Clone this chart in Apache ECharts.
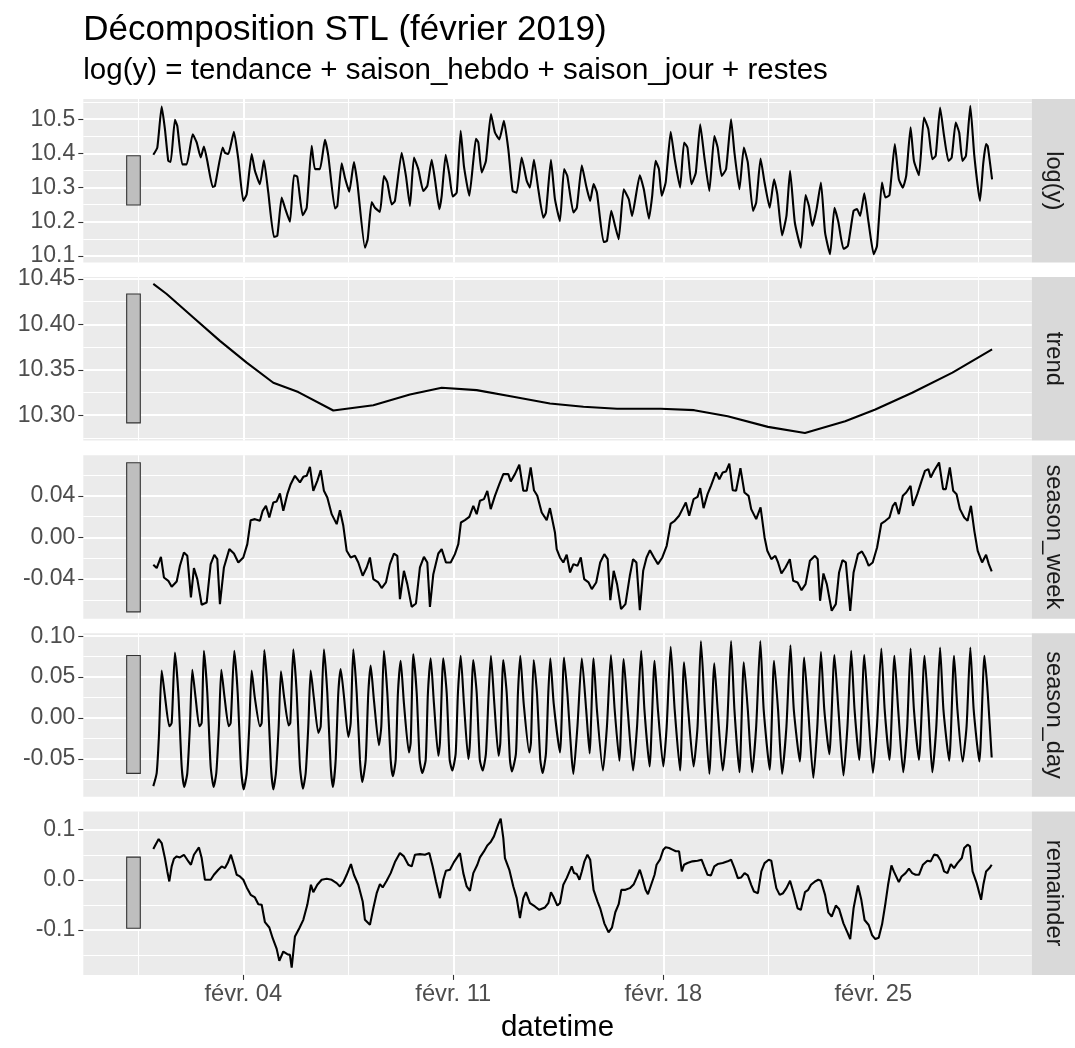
<!DOCTYPE html>
<html><head><meta charset="utf-8">
<script src="https://cdn.jsdelivr.net/npm/echarts@6/dist/echarts.min.js"></script>
<style>html,body{margin:0;padding:0;background:#fff}#c{width:1075px;height:1048px}</style>
</head><body><div id="c"></div>
<script>
// ---- data (hours since 2019-02-01 00:00) ----
const panelNames = ['log(y)', 'trend', 'season_week', 'season_day', 'remainder'];
const tickHours = [72, 240, 408, 576];
const tickLabels = ['févr. 04', 'févr. 11', 'févr. 18', 'févr. 25'];
const minorHours = [-12, 156, 324, 492, 660];
const xRange = [-56, 702.7];

const yTicks = [[10.1, 10.2, 10.3, 10.4, 10.5], [10.30, 10.35, 10.40, 10.45], [-0.04, 0, 0.04], [-0.05, 0, 0.05, 0.10], [-0.1, 0, 0.1]];
const yTickLabels = [['10.1', '10.2', '10.3', '10.4', '10.5'], ['10.30', '10.35', '10.40', '10.45'], ['-0.04', '0.00', '0.04'], ['-0.05', '0.00', '0.05', '0.10'], ['-0.1', '0.0', '0.1']];
const yMinor = [[10.15, 10.25, 10.35, 10.45, 10.55], [10.275, 10.325, 10.375, 10.425], [-0.06, -0.02, 0.02, 0.06], [-0.075, -0.025, 0.025, 0.075], [-0.15, -0.05, 0.05]];
const yRanges = [[10.081, 10.559], [10.272, 10.452], [-0.078, 0.079], [-0.096, 0.1035], [-0.19, 0.1366]];
const rangeBarHours = [-21.3, -10.4];
const rangeBars = [[10.249, 10.393], [10.2915, 10.4334], [-0.0714, 0.0717], [-0.0674, 0.0765], [-0.0967, 0.0453]];

const logY = [[0,10.396],[3.2,10.417],[6.7,10.537],[9.3,10.471],[12,10.378],[13.9,10.375],[17.3,10.498],[19.2,10.48],[23.2,10.368],[26.7,10.368],[31.5,10.456],[34.7,10.432],[37.9,10.388],[40.5,10.42],[43.2,10.378],[47.5,10.302],[49.3,10.305],[55.5,10.417],[57.3,10.402],[60,10.398],[64.5,10.463],[68,10.383],[72,10.261],[74.7,10.28],[78.7,10.398],[81.3,10.349],[85.3,10.31],[88.5,10.38],[92,10.285],[96.5,10.156],[99.2,10.159],[102.7,10.271],[105.3,10.241],[109.3,10.2],[112.5,10.336],[115.2,10.332],[119.5,10.219],[122.7,10.241],[126.7,10.422],[129.3,10.354],[133.3,10.354],[137.3,10.44],[140,10.393],[145.3,10.239],[147.2,10.246],[150.7,10.371],[153.3,10.329],[156.8,10.288],[160.5,10.375],[163.2,10.315],[169.3,10.124],[171.5,10.149],[174.7,10.258],[177.3,10.241],[181.3,10.229],[184.5,10.334],[187.2,10.315],[190.7,10.251],[193.3,10.261],[198.7,10.402],[202.1,10.334],[205.3,10.246],[208.5,10.388],[212,10.354],[216,10.29],[219.2,10.305],[222.7,10.381],[225.3,10.324],[228.8,10.237],[230.7,10.276],[233.9,10.396],[236.8,10.339],[239.5,10.274],[242.7,10.285],[245.9,10.466],[248.5,10.363],[252.8,10.276],[256,10.378],[258.1,10.443],[260,10.432],[262.7,10.344],[266.1,10.378],[270.1,10.515],[273.3,10.461],[276.8,10.441],[280.5,10.495],[284,10.412],[287.5,10.29],[290.7,10.285],[294.7,10.388],[298.7,10.32],[301.3,10.3],[304.5,10.381],[308,10.295],[312,10.212],[314.1,10.227],[318.1,10.381],[321.3,10.266],[325.3,10.202],[328.6,10.354],[331.2,10.334],[336.1,10.227],[338.8,10.241],[342.8,10.365],[346.3,10.305],[349.5,10.261],[352.2,10.31],[354.9,10.285],[360.2,10.141],[362.9,10.144],[366.4,10.232],[369.1,10.193],[372.3,10.149],[376.3,10.295],[380.4,10.266],[383,10.217],[389.2,10.336],[392.4,10.295],[396.5,10.209],[399.1,10.276],[401.8,10.378],[404.5,10.354],[406.7,10.276],[409.9,10.315],[413.9,10.463],[417.1,10.383],[421.4,10.3],[424.6,10.432],[427.3,10.417],[430.5,10.31],[434,10.344],[437.5,10.485],[440.7,10.393],[444.8,10.29],[448.8,10.451],[451.5,10.417],[454.7,10.334],[458.2,10.354],[462.2,10.5],[464.9,10.402],[468.9,10.295],[472.4,10.417],[475.6,10.373],[479.7,10.232],[482.3,10.256],[485.8,10.385],[489,10.315],[493.1,10.241],[496.6,10.324],[499.2,10.28],[503,10.16],[506.5,10.217],[509.4,10.349],[513.2,10.198],[518,10.124],[521.8,10.278],[524.5,10.246],[527.2,10.188],[530.6,10.237],[534.1,10.315],[537.4,10.168],[541.4,10.105],[544.9,10.241],[548.1,10.198],[552.1,10.121],[555.6,10.129],[560.2,10.232],[562.9,10.237],[565.5,10.217],[568.8,10.283],[572.2,10.198],[576.3,10.105],[578.9,10.129],[582.9,10.315],[585.7,10.271],[588.9,10.278],[593.2,10.427],[596.4,10.324],[599.6,10.3],[602.3,10.334],[605.8,10.476],[608.5,10.378],[612.5,10.336],[616.5,10.505],[620,10.471],[623.2,10.383],[625.9,10.393],[629.4,10.534],[632.6,10.451],[636.1,10.378],[638.7,10.388],[641.9,10.49],[644.7,10.461],[647.3,10.378],[650.1,10.393],[653.6,10.539],[656.8,10.393],[661.3,10.261],[664,10.373],[666.2,10.427],[667.5,10.422],[671,10.324]];

const trend = [[0,10.4445],[10.7,10.4334],[32,10.4076],[53.3,10.3818],[74.7,10.3579],[96,10.3357],[116,10.3254],[144,10.3051],[176,10.311],[205.3,10.3228],[230.7,10.3302],[258.7,10.3276],[288,10.3203],[317.3,10.3129],[344.1,10.3092],[371,10.307],[405.9,10.307],[432.7,10.3055],[459.5,10.2989],[491.7,10.2871],[521.3,10.2804],[553.5,10.2934],[577.6,10.3062],[607.1,10.3247],[639.3,10.3468],[671,10.3725]];

const seasonWeek = [[0,-0.0262],[2.7,-0.0294],[6.1,-0.0186],[8.5,-0.0384],[12,-0.0416],[14.7,-0.0474],[18.7,-0.0422],[21.3,-0.0272],[24.5,-0.0144],[27.2,-0.0176],[30.1,-0.0576],[32.5,-0.0294],[35.2,-0.04],[38.7,-0.0646],[42.7,-0.0624],[45.9,-0.0256],[48.8,-0.0166],[51.2,-0.0208],[53.3,-0.064],[56.5,-0.0288],[60.8,-0.0112],[64.5,-0.0154],[68,-0.024],[72,-0.0192],[75.2,-0.0064],[77.9,0.0166],[81.3,0.0176],[85.3,0.016],[87.5,0.0256],[90.1,0.0304],[92.8,0.0192],[96,0.0336],[98.7,0.0346],[101.3,0.0422],[104,0.0256],[107.2,0.0416],[109.9,0.0512],[113.3,0.0592],[117.3,0.0528],[120,0.0582],[122.7,0.0592],[125.3,0.0678],[128,0.0448],[131.2,0.0544],[133.9,0.0646],[136.5,0.0448],[139.2,0.0384],[142.7,0.0224],[146.7,0.0128],[149.3,0.0262],[152,0.0112],[154.7,-0.0128],[157.9,-0.0192],[161.3,-0.0176],[164,-0.024],[167.5,-0.0368],[170.7,-0.0288],[173.3,-0.0192],[176,-0.04],[180,-0.0432],[182.7,-0.0486],[186.1,-0.0432],[189.3,-0.0256],[192.5,-0.0154],[195.2,-0.0176],[197.3,-0.0592],[200.5,-0.032],[203.2,-0.0448],[206.7,-0.0666],[210.1,-0.0634],[213.3,-0.0288],[216.5,-0.0186],[219.2,-0.024],[221.3,-0.0666],[224,-0.0352],[228,-0.0154],[230.7,-0.0112],[234.1,-0.024],[237.9,-0.024],[241.3,-0.016],[244,-0.0064],[246.1,0.0144],[249.3,0.0166],[252.8,0.0198],[256,0.0304],[258.7,0.0224],[261.3,0.0352],[264.5,0.0368],[267.2,0.0448],[269.9,0.0272],[273.3,0.04],[276.8,0.0512],[280,0.0608],[284,0.0608],[285.9,0.0538],[289.3,0.0608],[292.8,0.0698],[296,0.0448],[298.7,0.0448],[301.9,0.0672],[304.5,0.0454],[307.2,0.04],[310.7,0.024],[314.7,0.0166],[317.3,0.0282],[321.3,0.0048],[322.7,-0.0112],[325.3,-0.0192],[328,-0.024],[330.7,-0.0166],[333.4,-0.0336],[336.1,-0.0256],[339.3,-0.0272],[342,-0.0192],[344.7,-0.04],[348.2,-0.0432],[350.8,-0.0496],[354.3,-0.0432],[357.5,-0.024],[360.8,-0.016],[363.5,-0.0208],[365.6,-0.0602],[368.3,-0.032],[371,-0.0448],[374.2,-0.0688],[377.7,-0.064],[381.2,-0.0368],[383.8,-0.0208],[386.5,-0.024],[389.2,-0.0698],[391.9,-0.032],[394.6,-0.0192],[397.3,-0.0122],[400.5,-0.0192],[403.7,-0.0256],[407.2,-0.0192],[410.7,-0.008],[413.9,0.0134],[417.1,0.016],[420.6,0.0208],[423.3,0.0272],[426,0.0336],[428.7,0.0208],[432.2,0.0368],[435.4,0.039],[437.5,0.0474],[440.2,0.0282],[443.4,0.0416],[446.1,0.0496],[450.1,0.0624],[452.8,0.056],[455.5,0.0624],[458.2,0.0634],[460.8,0.071],[463.5,0.0454],[466.2,0.0448],[469.7,0.0666],[472.9,0.0432],[476.2,0.04],[478.3,0.0272],[482.3,0.0176],[485.8,0.0288],[489,0],[491.2,-0.0128],[494.4,-0.0208],[497.6,-0.0176],[499.8,-0.024],[502.5,-0.0346],[505.7,-0.0288],[509.2,-0.0208],[511.9,-0.0416],[515.4,-0.0432],[518.6,-0.0506],[521.8,-0.0448],[525.3,-0.0224],[529.3,-0.0176],[531.5,-0.0208],[533.4,-0.0608],[536.1,-0.0346],[538.8,-0.0448],[542.7,-0.0704],[546,-0.064],[548.6,-0.0336],[551.3,-0.0218],[554,-0.024],[557.5,-0.0704],[560.2,-0.0336],[563.7,-0.016],[566.9,-0.0134],[569.6,-0.0192],[572.3,-0.0272],[575.5,-0.024],[579,-0.0096],[582.4,0.0134],[585.7,0.016],[588.9,0.0192],[591.6,0.0304],[593.7,0.0336],[596.4,0.0224],[599.6,0.04],[602.3,0.0432],[605.8,0.0496],[607.7,0.0304],[611.2,0.0416],[614.6,0.0544],[617.3,0.064],[620,0.0656],[621.9,0.0576],[624.6,0.064],[628.6,0.072],[631.8,0.0464],[634,0.0464],[637.2,0.0672],[639.9,0.0448],[642.6,0.0416],[645.3,0.0272],[648.7,0.0192],[651.4,0.016],[654.1,0.0304],[656.8,0.0064],[659.5,-0.0128],[663,-0.024],[666.2,-0.0166],[668.4,-0.0256],[670.7,-0.0326]];

const seasonDay = [[0,-0.083],[2.7,-0.067],[4.5,-0.022],[6.7,0.058],[9.3,0.027],[12.8,-0.010],[14.7,-0.006],[17.3,0.080],[20,0.031],[22.7,-0.059],[24.8,-0.084],
[27.2,-0.067],[29.3,-0.010],[31.2,0.059],[33.9,0.024],[36.8,-0.010],[38.7,-0.006],[40.5,0.082],[43.2,0.031],[45.9,-0.059],[48.3,-0.084],
[50.4,-0.067],[52.5,-0.010],[54.4,0.059],[57.1,0.024],[60.3,-0.010],[61.9,-0.006],[64.8,0.082],[67.5,0.031],[70.1,-0.059],[72.3,-0.087],
[74.7,-0.067],[76.8,-0.010],[78.7,0.058],[81.3,0.024],[85.3,-0.010],[86.7,-0.006],[88.8,0.083],[91.5,0.031],[94.1,-0.059],[96,-0.087],
[98.1,-0.067],[100.3,-0.010],[102.1,0.057],[104.8,0.024],[108.3,-0.009],[109.6,-0.006],[112,0.084],[114.7,0.031],[117.3,-0.059],[119.7,-0.086],
[121.9,-0.067],[124,-0.010],[125.9,0.058],[128.5,0.024],[132,-0.018],[133.9,-0.010],[136.5,0.084],[139.2,0.031],[141.9,-0.059],[143.7,-0.084],
[145.9,-0.051],[148,0.031],[149.9,0.060],[152.5,0.027],[156,-0.023],[157.9,-0.006],[160,0.084],[162.7,0.031],[165.3,-0.051],[167.2,-0.078],
[169.9,-0.051],[172,0.031],[173.9,0.064],[176.5,0.022],[180.5,-0.033],[182.4,-0.010],[184.5,0.082],[187.2,0.031],[189.9,-0.051],[191.7,-0.071],
[193.9,-0.051],[195.7,0.031],[197.9,0.070],[200.5,0.018],[204.5,-0.042],[205.9,-0.030],[208,0.078],[210.7,0.031],[213.1,-0.051],[215.2,-0.067],
[217.9,-0.051],[219.7,0.031],[221.9,0.073],[224.5,0.018],[228,-0.046],[229.3,-0.030],[232,0.073],[234.7,0.031],[237.1,-0.051],[239.2,-0.064],
[241.9,-0.043],[243.7,0.031],[245.9,0.076],[248.5,0.018],[252,-0.050],[253.3,-0.030],[256,0.071],[258.7,0.031],[261.2,-0.051],[263.5,-0.064],
[266.1,-0.043],[268.3,0.031],[270.1,0.076],[272.8,0.018],[276.2,-0.046],[277.6,-0.030],[280,0.071],[282.7,0.031],[285.3,-0.051],[286.9,-0.065],
[290.1,-0.043],[291.7,0.031],[293.6,0.076],[296.3,0.018],[300.8,-0.042],[302.1,-0.030],[304.3,0.071],[306.9,0.031],[309.6,-0.051],[311.5,-0.067],
[314.1,-0.043],[316,0.031],[317.6,0.073],[320.3,0.018],[325.3,-0.042],[328.6,0.074],[331.2,0.031],[336.1,-0.068],
[339.3,-0.010],[342.8,0.073],[346.3,0.010],[349,-0.043],[352.2,0.073],[354.9,0.010],[359.7,-0.064],[362.9,-0.010],[366.1,0.077],[369.1,0.010],[372.8,-0.052],[376.3,0.072],[379.5,0.010],[383.8,-0.064],[387,-0.010],[390.3,0.082],[392.9,0.010],[397,-0.059],[401,0.070],[403.7,0.010],[408,-0.059],[410.7,-0.010],[413.9,0.087],[417.1,0.010],[421.4,-0.064],[424.6,0.068],[427.9,0.010],[432.2,-0.059],[435.4,-0.010],[438.1,0.094],[441.3,0.010],[444.8,-0.068],[448.8,0.067],[451.5,0.010],[455.5,-0.064],[459,-0.010],[462.2,0.094],[464.9,0.010],[468.9,-0.066],[472.4,0.068],[475.6,0.010],[479.1,-0.066],[482.3,-0.010],[485.6,0.094],[488.3,0.010],[493.1,-0.063],[496.6,0.070],[499.8,0.010],[503,-0.068],[506.5,-0.010],[509.7,0.089],[512.4,0.010],[517.2,-0.053],[520.7,0.074],[523.9,0.010],[528,-0.073],[531.2,-0.010],[534.1,0.081],[536.8,0.010],[540.8,-0.044],[544.9,0.077],[548.1,0.010],[552.1,-0.070],[555.3,-0.010],[558.3,0.082],[561,0.010],[564.7,-0.051],[568.8,0.077],[571.8,0.010],[575.7,-0.067],[578.9,-0.010],[582.4,0.085],[585.1,0.010],[588.9,-0.051],[592.9,0.076],[595.9,0.010],[599.9,-0.066],[603.1,-0.010],[605.8,0.085],[608.5,0.010],[612.5,-0.051],[617,0.076],[620,0.010],[623.2,-0.066],[626.4,-0.010],[629.4,0.086],[632.1,0.010],[636.7,-0.052],[640.6,0.076],[643.3,0.010],[647.4,-0.053],[650.6,-0.010],[653.6,0.086],[656.3,0.010],[660.8,-0.053],[664.9,0.076],[667.5,0.031],[670.7,-0.048]];

const remainder = [[0,0.0613],[2.1,0.0713],[4.3,0.0813],[6.7,0.0733],[9.3,0.0433],[11.2,0.0167],[12.8,-0.0033],[14.7,0.0267],[16.5,0.042],[18.7,0.0467],[21.3,0.0447],[24.5,0.05],[27.2,0.04],[30.1,0.03],[32.5,0.05],[36.5,0.0647],[38.7,0.0433],[41.3,0],[45.9,0],[48.5,0.01],[52,0.02],[54.7,0.0267],[57.3,0.0233],[59.5,0.0333],[62.1,0.05],[64.5,0.03],[66.7,0.01],[69.3,0.0067],[72,0],[74.7,-0.0153],[77.9,-0.03],[81.3,-0.0353],[84,-0.0487],[86.7,-0.05],[89.3,-0.0847],[92.8,-0.0953],[95.5,-0.1167],[98.7,-0.138],[100.8,-0.162],[104,-0.1433],[107.2,-0.1487],[109.3,-0.15],[110.7,-0.1753],[113.3,-0.1133],[116.8,-0.0967],[120,-0.08],[123.2,-0.05],[126.1,-0.01],[128,-0.0247],[131.2,-0.01],[134.7,0],[138.7,0.002],[142.7,0],[146.7,-0.0067],[149.3,-0.0133],[152,-0.0047],[154.7,0.01],[158.1,0.0313],[160.5,0.01],[164,-0.01],[167.5,-0.0433],[169.3,-0.08],[173.3,-0.09],[176,-0.0567],[178.7,-0.0267],[181.3,-0.0087],[183.5,-0.0153],[186.7,-0.002],[189.9,0.0133],[193.3,0.0353],[197.3,0.0533],[200.5,0.0467],[204,0.03],[206.7,0.0267],[209.3,0.05],[213.3,0.0513],[217.3,0.05],[220.8,0.0533],[223.5,0.0267],[226.1,-0.0033],[229.3,-0.0367],[232,0],[234.1,0.018],[237.3,0.02],[240.5,0.0353],[245.3,0.0533],[248,0.0133],[250.7,-0.0133],[253.3,-0.022],[256,0.0133],[259.2,0.03],[261.3,0.0447],[264.5,0.0567],[267.2,0.0687],[269.9,0.0753],[272.5,0.0867],[276,0.1113],[277.9,0.122],[280,0.0833],[281.3,0.0433],[284.8,0.02],[288,-0.0133],[290.7,-0.0367],[293.3,-0.0767],[296,-0.0367],[298.1,-0.0247],[301.3,-0.0467],[305.3,-0.0533],[308.8,-0.06],[313.3,-0.0553],[316,-0.0467],[318.1,-0.0247],[320,-0.0334],[323.2,-0.0515],[325.3,-0.0468],[328,-0.01],[330.7,0.0033],[334.7,0.0268],[336.6,0.0134],[338.8,0.0114],[340.9,0],[342.8,0.0167],[344.9,0.0368],[347.3,0.0502],[349.5,0.0401],[352.2,-0.0201],[355.4,-0.0435],[357.5,-0.0569],[360.8,-0.087],[364.2,-0.105],[366.9,-0.0957],[369.6,-0.0649],[372.3,-0.0488],[374.4,-0.0201],[377.7,-0.0201],[381.2,-0.0167],[384.4,-0.0087],[387.1,0.0067],[389.2,0.0201],[391.4,0.002],[393.8,-0.0201],[395.7,-0.0288],[397.8,-0.0134],[401,0.01],[402.6,0.0301],[405.3,0.0401],[408,0.0602],[409.9,0.0649],[412.6,0.0635],[415.3,0.0602],[418,0.0569],[420.6,0.0569],[422.8,0.0167],[424.6,0.0301],[427.3,0.0334],[431.3,0.0368],[435.4,0.0381],[438.6,0.0401],[440.7,0.0268],[443.4,0.01],[446.1,0.0087],[448.8,0.0268],[451.5,0.0314],[455.5,0.0334],[459.5,0.0368],[462.2,0.0401],[464.9,0.0234],[467.6,0.0033],[470.3,0.0047],[473,0.0134],[475.6,0.0087],[478.3,-0.01],[480.5,-0.0234],[483.7,-0.0268],[486.4,0.0167],[489,0.0334],[492.3,0.0401],[494.4,0.0381],[496.6,0.0067],[498.4,-0.0167],[501.1,-0.0301],[503.8,-0.0268],[506.5,-0.0167],[509.4,-0.002],[511.9,-0.0234],[515.4,-0.0569],[518,-0.0602],[521.3,-0.0247],[523.9,-0.0201],[526.1,-0.01],[529.3,-0.0033],[532,0],[534.1,-0.002],[537.4,-0.0301],[540,-0.0649],[542.7,-0.0736],[546,-0.0515],[548.6,-0.0582],[552.1,-0.087],[555.6,-0.107],[557.5,-0.1184],[560.2,-0.0569],[563.7,-0.0114],[566.4,-0.0401],[569,-0.0803],[572.3,-0.0903],[575,-0.1104],[577.6,-0.1184],[580.3,-0.1157],[583,-0.089],[585.7,-0.0468],[587.8,-0.01],[590.5,0.0288],[592.4,0.0167],[596.4,-0.0047],[598.6,0.0067],[601.8,0.0134],[604.5,0.0221],[607.1,0.0134],[609.8,0.01],[612.5,0.01],[615.7,0.0301],[619.2,0.0381],[621.9,0.0368],[624.6,0.0502],[627.3,0.0488],[630,0.0381],[632.6,0.0167],[635.3,0.0134],[638,0.0314],[640.6,0.0234],[643.3,0.0334],[646.8,0.0435],[648.7,0.0635],[651.4,0.0702],[653.3,0.0669],[655.4,0.0167],[658.7,-0.0067],[662.2,-0.0401],[664,-0.01],[666.2,0.0167],[668.9,0.0234],[670.7,0.0301]];

const seriesData = [logY, trend, seasonWeek, seasonDay, remainder];
const smoothing = [0.15, false, false, 0.2, false];

// ---- layout / style ----
const FONT = '"Liberation Sans", Arial, Helvetica, sans-serif';
const L = 83.3, R = 43.3, TOP0 = 99, STEP = 178.1, H = 163.5;
const W = 1075;
const grids = [], xAxes = [], yAxes = [], series = [], graphics = [];

function labelFor(list, labels, v) {
  let best = 0, d = Infinity;
  list.forEach((t, k) => { const dd = Math.abs(t - v); if (dd < d) { d = dd; best = k; } });
  return labels[best];
}

for (let i = 0; i < 5; i++) {
  const top = TOP0 + i * STEP;
  const isBottom = i === 4;
  grids.push({ left: L, right: R, top: top, height: H, show: true, backgroundColor: '#EBEBEB', borderWidth: 0 });
  xAxes.push({
    gridIndex: i, type: 'value', min: xRange[0], max: xRange[1], position: 'bottom',
    axisLine: { show: false, onZero: false },
    axisTick: { show: isBottom, customValues: tickHours, length: 5, lineStyle: { color: '#333333', width: 1.1 } },
    axisLabel: { show: isBottom, customValues: tickHours, formatter: v => labelFor(tickHours, tickLabels, v),
      color: '#4D4D4D', fontSize: 23.7, fontFamily: FONT, margin: 8 },
    splitLine: { show: true, lineStyle: { color: '#FFFFFF', width: 2 } }
  });
  xAxes.push({
    gridIndex: i, type: 'value', min: xRange[0], max: xRange[1], position: 'bottom',
    axisLine: { show: false, onZero: false },
    axisTick: { show: false, customValues: minorHours },
    axisLabel: { show: false, customValues: minorHours },
    splitLine: { show: true, lineStyle: { color: '#FFFFFF', width: 1 } }
  });
  yAxes.push({
    gridIndex: i, type: 'value', min: yRanges[i][0], max: yRanges[i][1], position: 'left',
    axisLine: { show: false, onZero: false },
    axisTick: { show: true, customValues: yTicks[i], length: 5, lineStyle: { color: '#333333', width: 1.1 } },
    axisLabel: { show: true, customValues: yTicks[i], formatter: v => labelFor(yTicks[i], yTickLabels[i], v),
      color: '#4D4D4D', fontSize: 23, fontFamily: FONT, margin: 8 },
    splitLine: { show: true, lineStyle: { color: '#FFFFFF', width: 2 } }
  });
  yAxes.push({
    gridIndex: i, type: 'value', min: yRanges[i][0], max: yRanges[i][1], position: 'left',
    axisLine: { show: false, onZero: false },
    axisTick: { show: false, customValues: yMinor[i] },
    axisLabel: { show: false, customValues: yMinor[i] },
    splitLine: { show: true, lineStyle: { color: '#FFFFFF', width: 1 } }
  });
  series.push({
    type: 'line', xAxisIndex: 2 * i, yAxisIndex: 2 * i, data: seriesData[i],
    showSymbol: false, smooth: smoothing[i], lineStyle: { color: '#000000', width: 2.1 }, z: 5, silent: true
  });
  series.push({
    type: 'custom', xAxisIndex: 2 * i, yAxisIndex: 2 * i,
    data: [[rangeBarHours[0], rangeBarHours[1], rangeBars[i][0], rangeBars[i][1]]],
    encode: { x: [0, 1], y: [2, 3] },
    renderItem: (params, api) => {
      const p1 = api.coord([api.value(0), api.value(3)]);
      const p2 = api.coord([api.value(1), api.value(2)]);
      return { type: 'rect', shape: { x: p1[0], y: p1[1], width: p2[0] - p1[0], height: p2[1] - p1[1] },
        style: { fill: '#BEBEBE', stroke: '#333333', lineWidth: 1.1 } };
    }, z: 4, silent: true
  });
  graphics.push({ type: 'rect', shape: { x: W - R, y: top, width: R, height: H }, style: { fill: '#D9D9D9' }, silent: true });
  graphics.push({ type: 'text', x: W - R / 2, y: top + H / 2, rotation: -Math.PI / 2,
    style: { text: panelNames[i], fontSize: 23.7, fontFamily: FONT, fill: '#1A1A1A', align: 'center', verticalAlign: 'middle' }, silent: true });
}

graphics.push({ type: 'text', x: L, y: 30, style: { text: 'Décomposition STL (février 2019)', fontSize: 35, fontFamily: FONT, fill: '#000000', align: 'left', verticalAlign: 'middle' } });
graphics.push({ type: 'text', x: L, y: 71, style: { text: 'log(y) = tendance + saison_hebdo + saison_jour + restes', fontSize: 29.5, fontFamily: FONT, fill: '#000000', align: 'left', verticalAlign: 'middle' } });
graphics.push({ type: 'text', x: (L + W - R) / 2, y: 1028, style: { text: 'datetime', fontSize: 29.5, fontFamily: FONT, fill: '#000000', align: 'center', verticalAlign: 'middle' } });

const chart = echarts.init(document.getElementById('c'), null, { renderer: 'canvas' });
chart.setOption({
  animation: false,
  backgroundColor: '#FFFFFF',
  grid: grids, xAxis: xAxes, yAxis: yAxes, series: series,
  graphic: { elements: graphics }
});
</script>
</body></html>
